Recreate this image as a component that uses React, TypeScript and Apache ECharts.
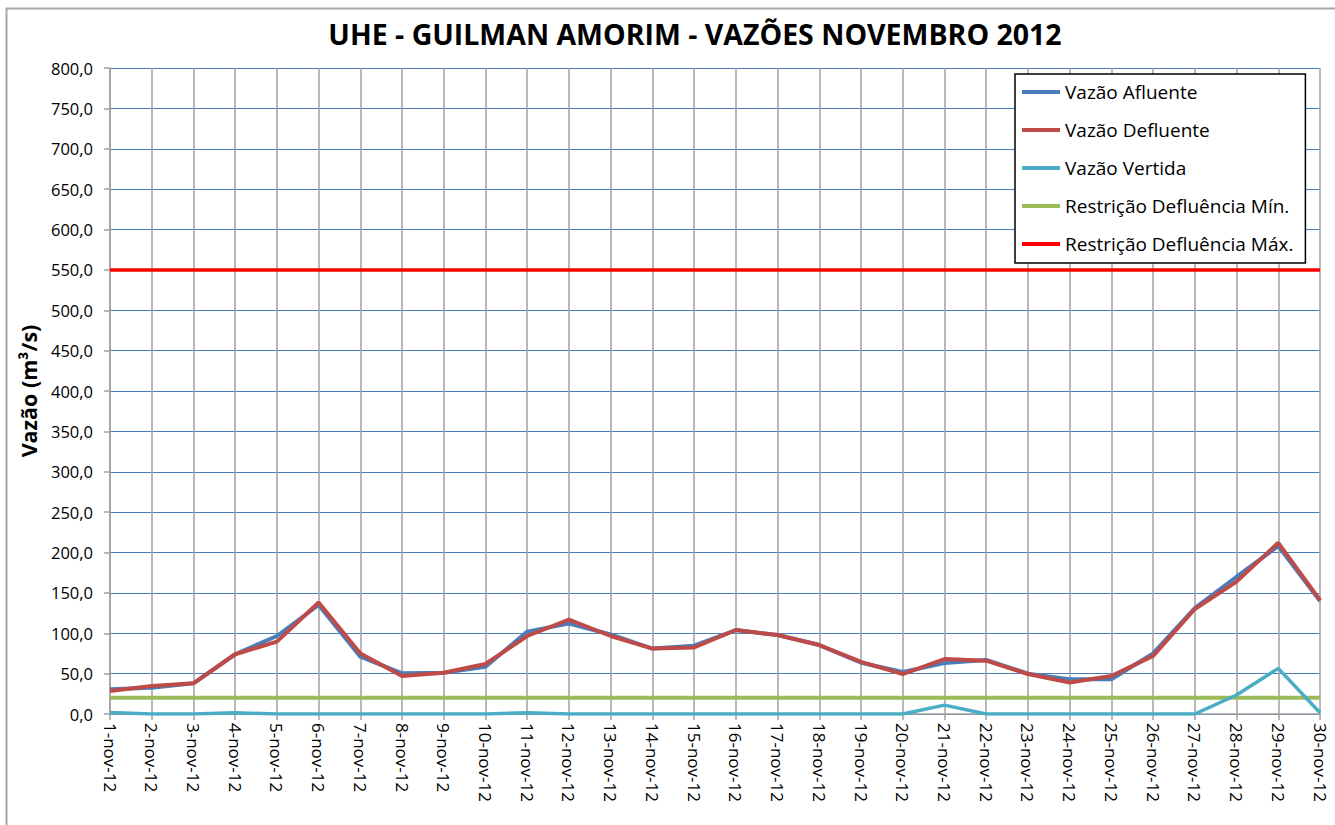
import React, { useEffect, useRef } from "react";
import * as echarts from "echarts";

const categories = [
  "1-nov-12", "2-nov-12", "3-nov-12", "4-nov-12", "5-nov-12", "6-nov-12", "7-nov-12", "8-nov-12", "9-nov-12", "10-nov-12",
  "11-nov-12", "12-nov-12", "13-nov-12", "14-nov-12", "15-nov-12", "16-nov-12", "17-nov-12", "18-nov-12", "19-nov-12", "20-nov-12",
  "21-nov-12", "22-nov-12", "23-nov-12", "24-nov-12", "25-nov-12", "26-nov-12", "27-nov-12", "28-nov-12", "29-nov-12", "30-nov-12",
];

const vazaoAfluente = [
  30.5, 32.6, 38, 74, 96.6, 135, 71, 50.4, 51, 58.6,
  102, 112, 98.5, 81, 84.6, 104, 97.8, 85.4, 63.5, 52,
  63, 67, 50, 43, 43, 75, 131, 170, 208, 140,
];

const vazaoDefluente = [
  28.5, 34.7, 38, 74, 89.6, 138, 75, 47, 51, 62,
  96.6, 117, 96.6, 81, 82.5, 104, 97.8, 85.4, 64.5, 49.5,
  68, 66, 49.5, 39, 47, 72, 130, 164, 212, 141,
];

const vazaoVertida = [
  2, 0, 0, 1.5, 0, 0, 0, 0, 0, 0,
  1.5, 0, 0, 0, 0, 0, 0, 0, 0, 0,
  11, 0, 0, 0, 0, 0, 0, 23.5, 56.5, 1.5,
];

const restricaoMin = 20;
const restricaoMax = 550;

const yTicks = { min: 0, max: 800, interval: 50 };

const FONT = "'Open Sans', 'Noto Sans', sans-serif";

export default function App() {
  const ref = useRef<HTMLDivElement>(null);

  useEffect(() => {
    if (!ref.current) return;
    const chart = echarts.init(ref.current, null, { renderer: "svg" });
    const lineSeries = (name: string, data: number[], color: string, width: number, z: number) => ({
      name,
      type: "line",
      data,
      symbol: "none",
      z,
      lineStyle: { color, width },
      itemStyle: { color },
    });
    chart.setOption({
      animation: false,
      backgroundColor: "#ffffff",
      textStyle: { fontFamily: FONT },
      title: {
        text: "UHE - GUILMAN AMORIM - VAZÕES NOVEMBRO 2012",
        left: 690,
        textAlign: "center",
        top: 14,
        textStyle: { fontFamily: FONT, fontSize: 28.5, fontWeight: "bold", color: "#000" },
      },
      graphic: [
        {
          type: "rect",
          shape: { x: 6.5, y: 8.5, width: 1500, height: 1000 },
          style: { fill: "none", stroke: "#a6a6a6", lineWidth: 2 },
          silent: true,
        },
      ],
      legend: {
        orient: "vertical",
        left: 1015,
        top: 74,
        backgroundColor: "#ffffff",
        borderColor: "#000",
        borderWidth: 1.5,
        padding: [7, 12, 8, 7],
        itemGap: 16,
        itemWidth: 38,
        itemHeight: 4,
        icon: "rect",
        textStyle: { fontFamily: FONT, fontSize: 19, color: "#000", lineHeight: 22 },
        data: [
          "Vazão Afluente",
          "Vazão Defluente",
          "Vazão Vertida",
          "Restrição Defluência Mín.",
          "Restrição Defluência Máx.",
        ],
      },
      grid: { left: 110, top: 68, right: 15, bottom: 111, containLabel: false },
      xAxis: {
        type: "category",
        data: categories,
        boundaryGap: false,
        axisLine: { show: true, lineStyle: { color: "#a0a0a0", width: 1.5 } },
        axisTick: { show: true, length: 6, lineStyle: { color: "#a0a0a0", width: 1.5 } },
        splitLine: { show: true, lineStyle: { color: "#a0a0a0", width: 1.5 } },
        axisLabel: { rotate: -90, margin: 9, fontFamily: FONT, fontSize: 17, color: "#000", interval: 0 },
      },
      yAxis: {
        type: "value",
        min: yTicks.min,
        max: yTicks.max,
        interval: yTicks.interval,
        name: "Vazão (m³/s)",
        nameLocation: "middle",
        nameGap: 71,
        nameRotate: 90,
        nameTextStyle: { fontFamily: FONT, fontSize: 21.5, fontWeight: "bold", color: "#000" },
        axisLine: { show: true, lineStyle: { color: "#a0a0a0", width: 1.5 } },
        axisTick: { show: true, length: 6, lineStyle: { color: "#a0a0a0", width: 1.5 } },
        splitLine: { show: true, lineStyle: { color: "#4a7ebb", width: 1 } },
        axisLabel: {
          margin: 17,
          fontFamily: FONT,
          fontSize: 16.5,
          color: "#000",
          formatter: (v: number) => v.toFixed(1).replace(".", ","),
        },
      },
      series: [
        lineSeries("Vazão Afluente", vazaoAfluente, "#4a7ebb", 4, 5),
        lineSeries("Vazão Defluente", vazaoDefluente, "#be4b48", 4, 6),
        lineSeries("Vazão Vertida", vazaoVertida, "#4bacc6", 3.5, 4),
        lineSeries("Restrição Defluência Mín.", categories.map(() => restricaoMin), "#9bbb59", 4, 3),
        lineSeries("Restrição Defluência Máx.", categories.map(() => restricaoMax), "#ff0000", 3.5, 3),
      ],
    });
    return () => chart.dispose();
  }, []);

  return (
    <div style={{ position: "absolute", left: 0, top: 0, width: 1335, height: 825 }}>
      <div ref={ref} style={{ width: 1335, height: 825 }} />
    </div>
  );
}
